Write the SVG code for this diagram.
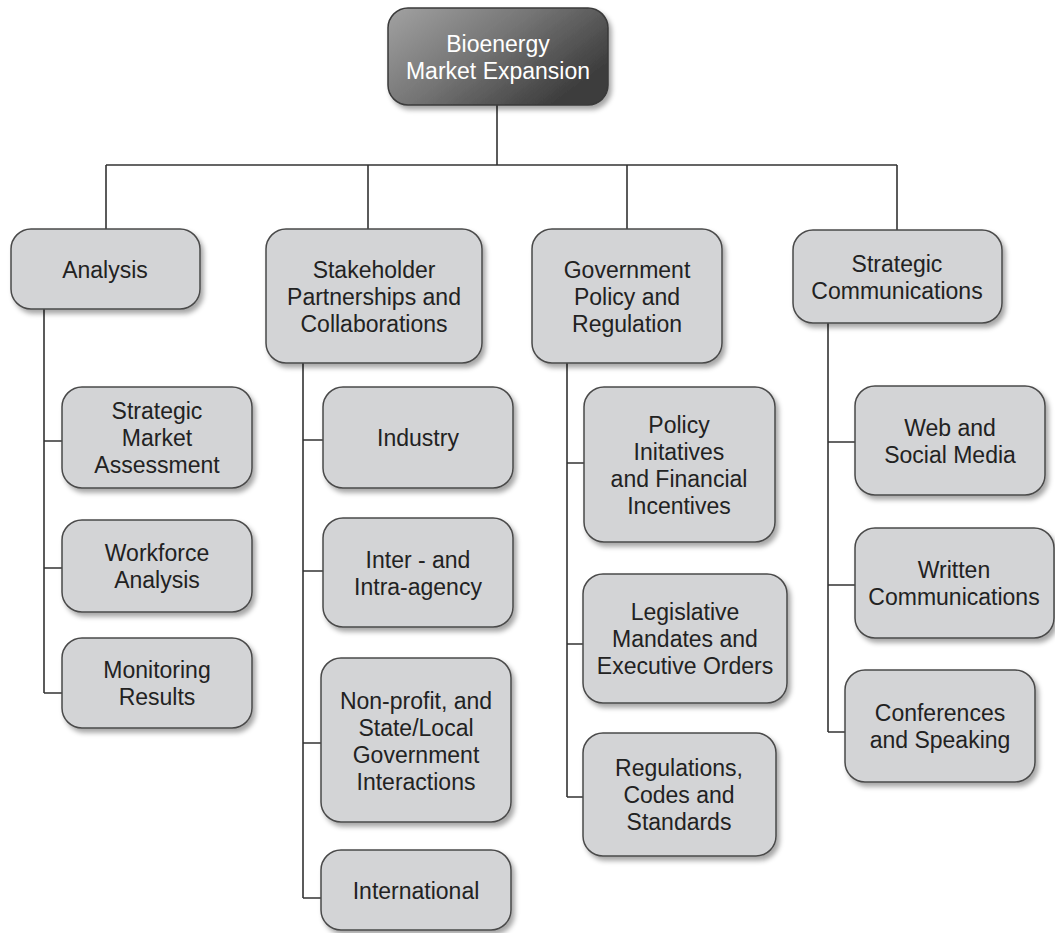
<svg xmlns="http://www.w3.org/2000/svg" width="1055" height="933" viewBox="0 0 1055 933">
<style>
.box{fill:#d3d4d6;stroke:#4a4a4a;stroke-width:1.5;filter:url(#sh)}
.root{fill:url(#g);stroke:#3a3a3a;stroke-width:1.5;filter:url(#sh)}
.t{font-family:"Liberation Sans",Arial,sans-serif;font-size:23px;fill:#222;text-anchor:middle}
.tw{font-family:"Liberation Sans",Arial,sans-serif;font-size:23px;fill:#fff;text-anchor:middle}
.c{fill:none;stroke:#333;stroke-width:1.6}
</style>
<defs>
<linearGradient id="g" x1="0" y1="0" x2="1" y2="0.6">
<stop offset="0" stop-color="#a2a2a2"/>
<stop offset="0.5" stop-color="#757575"/>
<stop offset="1" stop-color="#3c3c3c"/>
</linearGradient>
<filter id="sh" x="-10%" y="-10%" width="130%" height="130%">
<feDropShadow dx="3" dy="4" stdDeviation="2.5" flood-color="#000" flood-opacity="0.35"/>
</filter>
</defs>
<rect width="1055" height="933" fill="#fff"/>
<g id="connectors">
<path class="c" d="M497 105V165M106 165H897M106 165V229M368 165V229M627 165V229M897 165V230"/>
<path class="c" d="M44 309V693M44 441H62M44 568H62M44 693H62"/>
<path class="c" d="M303 363V898M303 440H323M303 571H323M303 743H321M303 898H321"/>
<path class="c" d="M567 363V797M567 463H584M567 644H583M567 797H583"/>
<path class="c" d="M828 323V732M828 442H855M828 585H855M828 732H845"/>
</g>
<g id="root"><rect class="root" x="388" y="8" width="220" height="97" rx="20"/><text class="tw" x="498" y="52">Bioenergy<tspan x="498" y="79">Market Expansion</tspan></text></g>
<g id="analysis"><rect class="box" x="11" y="229" width="189" height="80" rx="20"/><text class="t" x="105" y="278">Analysis</text></g>
<g id="stakeholder"><rect class="box" x="266" y="229" width="216" height="134" rx="20"/><text class="t" x="374" y="278">Stakeholder<tspan x="374" y="305">Partnerships and</tspan><tspan x="374" y="332">Collaborations</tspan></text></g>
<g id="government"><rect class="box" x="532" y="229" width="190" height="134" rx="20"/><text class="t" x="627" y="278">Government<tspan x="627" y="305">Policy and</tspan><tspan x="627" y="332">Regulation</tspan></text></g>
<g id="strategic-comm"><rect class="box" x="793" y="230" width="209" height="93" rx="20"/><text class="t" x="897" y="272">Strategic<tspan x="897" y="299">Communications</tspan></text></g>
<g id="sma"><rect class="box" x="62" y="387" width="190" height="101" rx="20"/><text class="t" x="157" y="419">Strategic<tspan x="157" y="446">Market</tspan><tspan x="157" y="473">Assessment</tspan></text></g>
<g id="workforce"><rect class="box" x="62" y="520" width="190" height="92" rx="20"/><text class="t" x="157" y="561">Workforce<tspan x="157" y="588">Analysis</tspan></text></g>
<g id="monitoring"><rect class="box" x="62" y="638" width="190" height="90" rx="20"/><text class="t" x="157" y="678">Monitoring<tspan x="157" y="705">Results</tspan></text></g>
<g id="industry"><rect class="box" x="323" y="387" width="190" height="101" rx="20"/><text class="t" x="418" y="446">Industry</text></g>
<g id="inter"><rect class="box" x="323" y="518" width="190" height="109" rx="20"/><text class="t" x="418" y="568">Inter - and<tspan x="418" y="595">Intra-agency</tspan></text></g>
<g id="nonprofit"><rect class="box" x="321" y="658" width="190" height="164" rx="20"/><text class="t" x="416" y="709">Non-profit, and<tspan x="416" y="736">State/Local</tspan><tspan x="416" y="763">Government</tspan><tspan x="416" y="790">Interactions</tspan></text></g>
<g id="international"><rect class="box" x="321" y="850" width="190" height="80" rx="20"/><text class="t" x="416" y="899">International</text></g>
<g id="policy"><rect class="box" x="584" y="387" width="191" height="155" rx="20"/><text class="t" x="679" y="433">Policy<tspan x="679" y="460">Initatives</tspan><tspan x="679" y="487">and Financial</tspan><tspan x="679" y="514">Incentives</tspan></text></g>
<g id="legislative"><rect class="box" x="583" y="574" width="204" height="129" rx="20"/><text class="t" x="685" y="620">Legislative<tspan x="685" y="647">Mandates and</tspan><tspan x="685" y="674">Executive Orders</tspan></text></g>
<g id="regulations"><rect class="box" x="583" y="733" width="193" height="123" rx="20"/><text class="t" x="679" y="776">Regulations,<tspan x="679" y="803">Codes and</tspan><tspan x="679" y="830">Standards</tspan></text></g>
<g id="web"><rect class="box" x="855" y="386" width="190" height="109" rx="20"/><text class="t" x="950" y="436">Web and<tspan x="950" y="463">Social Media</tspan></text></g>
<g id="written"><rect class="box" x="855" y="528" width="199" height="110" rx="20"/><text class="t" x="954" y="578">Written<tspan x="954" y="605">Communications</tspan></text></g>
<g id="conferences"><rect class="box" x="845" y="670" width="190" height="112" rx="20"/><text class="t" x="940" y="721">Conferences<tspan x="940" y="748">and Speaking</tspan></text></g>
</svg>
